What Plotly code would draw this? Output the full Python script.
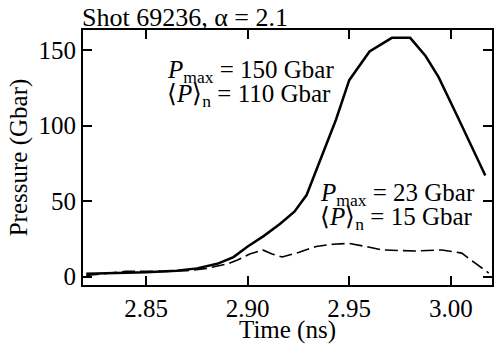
import plotly.graph_objects as go

t_solid = [2.8205, 2.835, 2.85, 2.865, 2.875, 2.885, 2.893, 2.90, 2.908, 2.916, 2.923, 2.929,
           2.9435, 2.950, 2.960, 2.971, 2.980, 2.9876, 2.994, 3.004, 3.017]
p_solid = [2.0, 2.3, 3.0, 4.0, 5.5, 8.5, 13.0, 20.0, 27.0, 35.0, 43.0, 54.0,
           104.0, 130.0, 149.0, 158.0, 158.0, 146.0, 132.0, 104.0, 67.0]

t_dash = [2.8205, 2.83, 2.84, 2.85, 2.86, 2.87, 2.88, 2.89, 2.895, 2.901, 2.9074, 2.912, 2.917,
          2.925, 2.9337, 2.942, 2.950, 2.958, 2.966, 2.9827, 2.9956, 3.0054, 3.012, 3.0187]
p_dash = [0.8, 2.0, 3.5, 3.5, 3.5, 4.0, 5.5, 8.5, 11.0, 15.0, 17.7, 15.0, 13.0,
          16.0, 20.0, 21.5, 22.0, 20.0, 17.7, 17.0, 17.7, 15.6, 9.0, 2.4]

x_ticks = [2.85, 2.90, 2.95, 3.00]
x_tick_labels = ["2.85", "2.90", "2.95", "3.00"]
y_ticks = [0, 50, 100, 150]

label_lines = [
    "<i>P</i><sub>max</sub> = 150 Gbar",
    "⟨<i>P</i>⟩<sub>n</sub> = 110 Gbar",
    "<i>P</i><sub>max</sub> = 23 Gbar",
    "⟨<i>P</i>⟩<sub>n</sub> = 15 Gbar",
]
label_x = [2.8613, 2.8613, 2.9368, 2.9368]
label_y = [136.0, 120.0, 54.5, 38.5]

FONT = "Liberation Serif"
FS = 25

fig = go.Figure()
fig.add_trace(go.Scatter(x=t_solid, y=p_solid, mode="lines",
                         line=dict(color="black", width=2.5), showlegend=False))
fig.add_trace(go.Scatter(x=t_dash, y=p_dash, mode="lines",
                         line=dict(color="black", width=1.6, dash="13px,5px"), showlegend=False))

axis_common = dict(showline=True, linecolor="black", linewidth=2, mirror="ticks",
                   ticks="inside", ticklen=9, tickwidth=2, tickcolor="black",
                   showgrid=False, zeroline=False,
                   tickfont=dict(family=FONT, size=FS, color="black"))

fig.update_xaxes(range=[2.8189, 3.0203], tickvals=x_ticks, ticktext=x_tick_labels,
                 title=dict(text="Time (ns)", font=dict(family=FONT, size=FS, color="black"),
                            standoff=0),
                 **axis_common)
fig.update_yaxes(range=[-5.5, 163.2], tickvals=y_ticks,
                 title=dict(text="Pressure (Gbar)", font=dict(family=FONT, size=FS, color="black"),
                            standoff=4),
                 **axis_common)

fig.add_annotation(xref="paper", yref="paper", x=0, y=1, xanchor="left", yanchor="bottom",
                   text="Shot 69236, α = 2.1", showarrow=False, yshift=-4, xshift=-3,
                   font=dict(family=FONT, size=26, color="black"))
for txt, lx, ly in zip(label_lines, label_x, label_y):
    fig.add_annotation(x=lx, y=ly, xanchor="left", yanchor="middle", align="left",
                       text=txt, showarrow=False, xshift=-3, borderpad=0,
                       font=dict(family=FONT, size=FS, color="black"))

fig.update_layout(width=494, height=344, margin=dict(l=83, r=0, t=30, b=59),
                  plot_bgcolor="white", paper_bgcolor="white",
                  font=dict(family=FONT, size=FS, color="black"))

fig.write_html("out.html")
